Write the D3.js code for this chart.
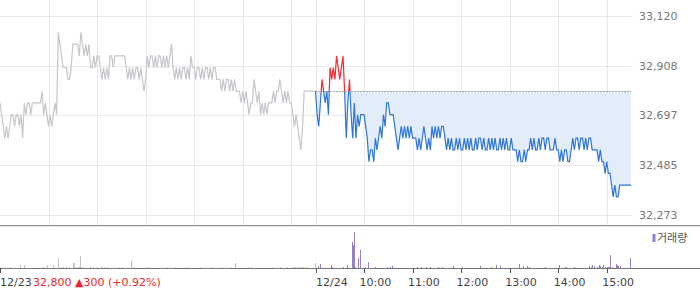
<!DOCTYPE html>
<html><head><meta charset="utf-8">
<script src="https://cdn.jsdelivr.net/npm/d3@7/dist/d3.min.js"></script>
<style>html,body{margin:0;padding:0;background:#fff;}svg{display:block;}</style>
</head><body>
<svg id="c" width="700" height="289"></svg>
<script>
// ---- data ----
const yTickValues = [32273, 32485, 32697, 32908, 33120];
const baseLine = 32800;
const dayLabels = ["12/23", "12/24"];
const hourLabels = ["10:00", "11:00", "12:00", "13:00", "14:00", "15:00"];
const hourMinutes = [450, 510, 570, 630, 690, 750];
const day1HourMinutes = [60, 120, 180, 240, 300, 360];
const infoText = "32,800 \u25B2300 (+0.92%)";
const legendText = "거래량";
// prices sampled every 2 trading minutes (day 1: minutes 0..390, day 2: minutes 390..780)
const day1Prices = [
32750,32700,32650,32600,32650,32600,32650,32700,32700,32650,
32700,32700,32650,32700,32600,32750,32700,32750,32750,32700,
32750,32750,32750,32750,32750,32750,32800,32700,32750,32700,
32650,32700,32650,32700,32750,32700,33050,33000,32950,32900,
32900,32900,32850,32850,32900,33000,33000,33000,33000,32950,
33050,33000,32950,33000,32950,33000,32900,32900,32950,32900,
32950,32950,32900,32850,32900,32850,32900,32850,32950,32950,
32900,32950,32950,32950,32950,32950,32950,32950,32900,32850,
32900,32850,32900,32850,32900,32900,32850,32900,32850,32800,
32850,32950,32900,32950,32950,32900,32950,32900,32950,32950,
32900,32950,32900,32950,32900,32950,33000,32900,32850,32900,
32850,32900,32850,32900,32900,32850,32900,32850,32950,32900,
32900,32850,32900,32900,32850,32900,32850,32900,32900,32850,
32900,32850,32900,32900,32850,32850,32850,32800,32850,32800,
32850,32850,32800,32850,32800,32850,32800,32800,32800,32750,
32800,32750,32800,32750,32700,32750,32750,32850,32800,32750,
32800,32700,32750,32700,32750,32700,32750,32750,32750,32800,
32750,32800,32800,32850,32800,32750,32800,32750,32800,32750,
32750,32700,32650,32700,32650,32600,32550,32650,32800,32800,
32800,32800,32800,32800,32800,32800];
const day2Prices = [
32800,32700,32650,32750,32850,32800,32750,32800,32700,32900,
32850,32900,32850,32950,32900,32850,32900,32950,32800,32600,
32750,32850,32700,32600,32750,32600,32700,32650,32700,32700,
32700,32650,32600,32500,32550,32550,32500,32600,32550,32600,
32650,32600,32700,32650,32750,32750,32700,32700,32700,32650,
32600,32550,32600,32650,32600,32650,32600,32650,32600,32650,
32600,32600,32600,32550,32600,32550,32600,32650,32600,32550,
32600,32550,32650,32600,32650,32600,32650,32600,32650,32650,
32600,32550,32600,
32550,32600,32550,32550,32600,32550,32600,32550,32550,32600,
32550,32600,32550,32600,32550,32550,32600,32550,32600,32600,
32550,32600,32550,32550,32600,32550,32600,32550,32600,32550,
32550,32600,32550,32600,32550,32600,32550,32550,32600,32550,
32550,32550,
32500,32550,32500,32500,32550,32500,32550,32550,
32600,32550,32600,32550,32550,32600,32550,32600,32600,32550,
32600,32600,32550,32550,32550,32600,32550,
32550,32500,32550,32500,32550,32550,32500,32500,32550,
32600,32550,32600,32600,32550,32600,32600,32550,32600,32550,32600,32600,32550,
32550,32550,32550,
32500,32550,32500,
32500,32450,32500,32450,32450,32400,
32350,32400,32350,32350,32400,
32400,32400,32400,32400,32400,32400,32400];
// volume (trading minute, amount)
const vol1Minutes = [1,12,25,30,53,58,66,72,75,78,82,85,90,91,94,96,98,99,100,102,111,115,120,125,129,132,147,151,162,165,181,183,206,216,229,232,247,262,274,286,291,307,310,336,346,355,361,363,365,367,369,371,373,375,377,379,389];
const vol1Values  = [130,130,270,300,100,300,300,1000,150,150,200,130,470,470,130,130,130,1230,130,130,200,130,130,200,130,100,130,130,730,100,130,130,100,100,100,100,100,100,130,130,530,130,130,100,100,100,130,130,130,130,130,130,130,130,130,130,530];
const vol2Minutes = [393,396,409,411,424,429,435,436,437,438,439,443,445,451,455,464,479,482,485,515,520,527,532,541,546,560,571,593,607,613,618,641,646,651,654,674,691,698,700,709,728,730,732,734,738,740,742,744,746,748,750,752,753,754,757,761,763,764,766,779];
const vol2Values  = [230,400,300,100,100,300,2600,2300,3600,2500,100,1000,1800,130,600,100,130,130,200,100,130,100,100,130,130,200,130,230,130,300,200,400,230,230,130,100,300,130,130,130,200,130,300,200,130,300,200,130,300,130,130,130,130,1300,130,400,300,200,230,1000];

// ---- scales ----
const svg = d3.select("#c");
const plotRight = 631;
const x = d3.scaleLinear().domain([0, 780]).range([0, plotRight]);
const y = d3.scaleLinear().domain([32273, 33120]).range([215, 16]);
const yv = d3.scaleLinear().domain([0, 3600]).range([268, 232]);
const fmt = d3.format(",");

const d1 = day1Prices.map((v, i) => ({m: i * 2, v}));
const d2 = day2Prices.map((v, i) => ({m: 390 + i * 2, v}));
const vol1 = vol1Minutes.map((m, i) => ({m, v: vol1Values[i]}));
const vol2 = vol2Minutes.map((m, i) => ({m, v: vol2Values[i]}));

// ---- grid ----
const grid = svg.append("g").attr("shape-rendering", "crispEdges");
grid.selectAll("line.h").data(yTickValues).enter().append("line")
  .attr("x1", 0).attr("x2", plotRight)
  .attr("y1", d => Math.round(y(d)) + 0.5).attr("y2", d => Math.round(y(d)) + 0.5)
  .attr("stroke", "#e8e8e8");
const vMinutes = day1HourMinutes.concat([390], hourMinutes);
grid.selectAll("line.v").data(vMinutes).enter().append("line")
  .attr("x1", d => Math.round(x(d)) + 0.5).attr("x2", d => Math.round(x(d)) + 0.5)
  .attr("y1", 0).attr("y2", 225)
  .attr("stroke", "#e8e8e8");

// right axis labels
svg.append("g").selectAll("text").data(yTickValues).enter().append("text")
  .attr("x", 639).attr("y", d => y(d) + 4)
  .attr("font-family", "DejaVu Sans").attr("font-size", 11)
  .attr("fill", "#777").text(d => fmt(d));

// ---- clip paths ----
const defs = svg.append("defs");
defs.append("clipPath").attr("id", "below").append("rect")
  .attr("x", 0).attr("y", y(baseLine)).attr("width", 700).attr("height", 225 - y(baseLine));
defs.append("clipPath").attr("id", "above").append("rect")
  .attr("x", 0).attr("y", 0).attr("width", 700).attr("height", y(baseLine));

// fill area
const area = d3.area().x(d => x(d.m)).y0(y(baseLine)).y1(d => y(d.v));
svg.append("path").datum(d2).attr("d", area)
  .attr("fill", "#e3ecf9").attr("clip-path", "url(#below)");

// day 1 line
const line = d3.line().x(d => x(d.m)).y(d => y(d.v));
svg.append("path").datum(d1).attr("d", line)
  .attr("fill", "none").attr("stroke", "#c5c7cc").attr("stroke-width", 1.2);

// baseline dotted
svg.append("line").attr("x1", x(390)).attr("x2", plotRight)
  .attr("y1", Math.round(y(baseLine)) + 0.5).attr("y2", Math.round(y(baseLine)) + 0.5)
  .attr("stroke", "#555").attr("stroke-dasharray", "1,2");

// day 2 lines
svg.append("path").datum(d2).attr("d", line)
  .attr("fill", "none").attr("stroke", "#2f76d8").attr("stroke-width", 1.2)
  .attr("clip-path", "url(#below)");
svg.append("path").datum(d2).attr("d", line)
  .attr("fill", "none").attr("stroke", "#f5292f").attr("stroke-width", 1.2)
  .attr("clip-path", "url(#above)");

// separator
svg.append("line").attr("x1", 0).attr("x2", 700).attr("y1", 225.5).attr("y2", 225.5)
  .attr("stroke", "#8a8d92").attr("shape-rendering", "crispEdges");
svg.append("line").attr("x1", 0).attr("x2", 700).attr("y1", 226.5).attr("y2", 226.5)
  .attr("stroke", "#e6e6e6").attr("shape-rendering", "crispEdges");

// ---- volume ----
const vg = svg.append("g").attr("shape-rendering", "crispEdges");
vg.selectAll("rect.v1").data(vol1).enter().append("rect")
  .attr("x", d => Math.round(x(d.m))).attr("width", 1)
  .attr("y", d => yv(d.v)).attr("height", d => 268 - yv(d.v))
  .attr("fill", "#bfc2c8");
vg.selectAll("rect.v2").data(vol2).enter().append("rect")
  .attr("x", d => Math.round(x(d.m))).attr("width", 1)
  .attr("y", d => yv(d.v)).attr("height", d => 268 - yv(d.v))
  .attr("fill", "#9580c6");

// volume axis
svg.append("line").attr("x1", 0).attr("x2", 700).attr("y1", 268.5).attr("y2", 268.5)
  .attr("stroke", "#777").attr("shape-rendering", "crispEdges");
const tickMinutes = [0, 390].concat(hourMinutes);
svg.append("g").attr("shape-rendering", "crispEdges").selectAll("line").data(tickMinutes).enter().append("line")
  .attr("x1", d => Math.round(x(d)) + 0.5).attr("x2", d => Math.round(x(d)) + 0.5)
  .attr("y1", 268).attr("y2", 273).attr("stroke", "#555");

// labels
const lbl = svg.append("g").attr("font-family", "DejaVu Sans").attr("font-size", 11);
lbl.append("text").attr("x", 0).attr("y", 286).attr("fill", "#444").text(dayLabels[0]);
lbl.append("text").attr("x", x(390) + 0.5).attr("y", 286).attr("fill", "#444").text(dayLabels[1]);
lbl.append("text").attr("x", 33).attr("y", 286).attr("fill", "#e8282d").text(infoText);
lbl.selectAll("text.h").data(hourMinutes).enter().append("text")
  .attr("x", (d) => x(d) - 4.5).attr("y", 286).attr("fill", "#444")
  .text((d, i) => hourLabels[i]);

// legend
svg.append("rect").attr("x", 652.5).attr("y", 234).attr("width", 3).attr("height", 8).attr("fill", "#9580c6");
svg.append("text").attr("x", 657).attr("y", 242).attr("font-family", "Noto Sans CJK KR")
  .attr("font-size", 11).attr("fill", "#555").text(legendText);
</script>
</body></html>
